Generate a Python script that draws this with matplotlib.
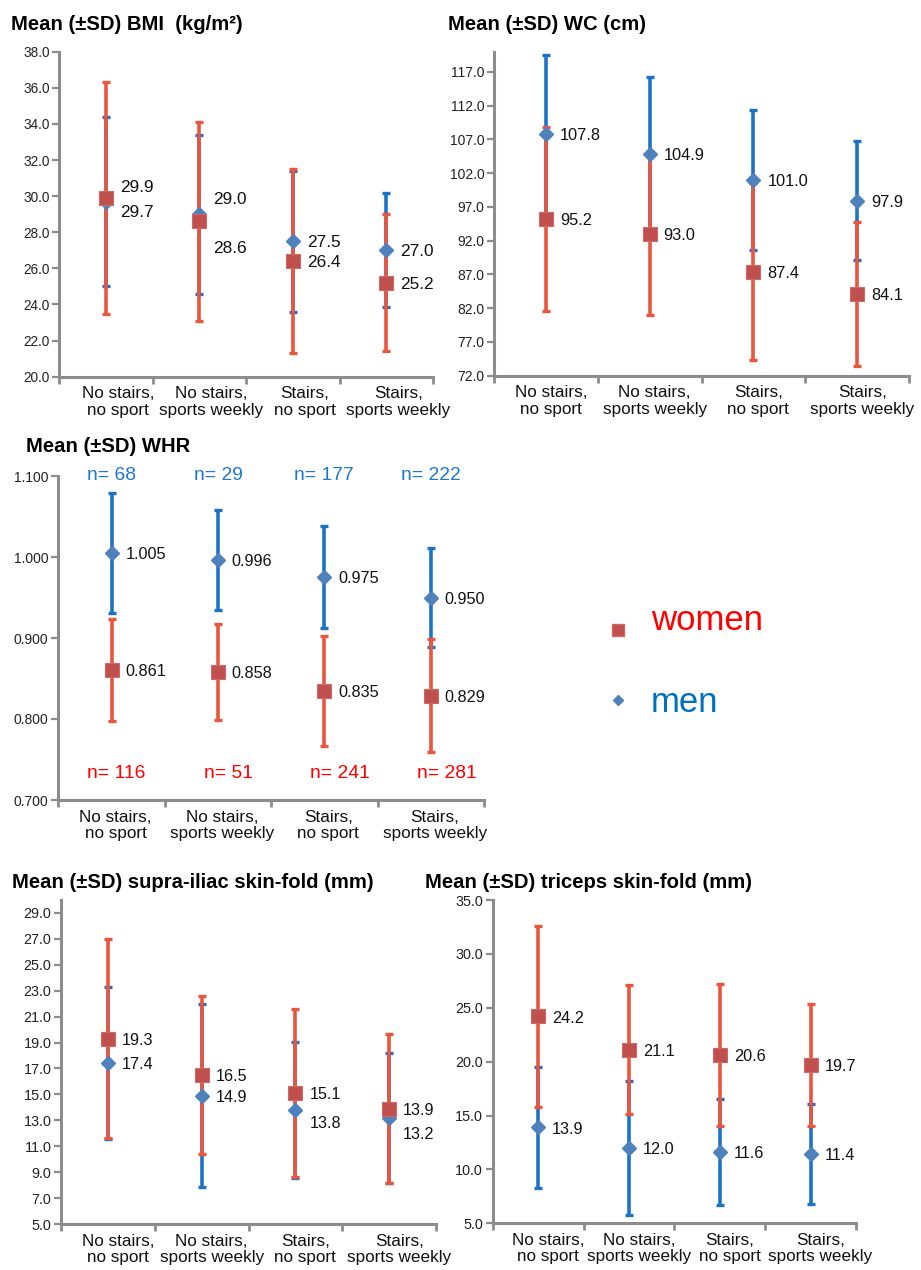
import matplotlib
matplotlib.use("Agg")
import matplotlib.pyplot as plt
import matplotlib.transforms as mtransforms
import numpy as np

plt.rcParams['font.family'] = ['Liberation Sans', 'DejaVu Sans']

W, H = 921, 1270
DPI = 100

categories = ["No stairs,\nno sport", "No stairs,\nsports weekly", "Stairs,\nno sport", "Stairs,\nsports weekly"]

# BMI
bmi_women = [29.9, 28.6, 26.4, 25.2]
bmi_women_sd = [6.4, 5.5, 5.1, 3.8]
bmi_men = [29.7, 29.0, 27.5, 27.0]
bmi_men_sd = [4.7, 4.4, 3.9, 3.15]
# WC
wc_women = [95.2, 93.0, 87.4, 84.1]
wc_women_sd = [13.6, 12.0, 13.1, 10.7]
wc_men = [107.8, 104.9, 101.0, 97.9]
wc_men_sd = [11.7, 11.35, 10.4, 8.8]
# WHR
whr_women = [0.861, 0.858, 0.835, 0.829]
whr_women_sd = [0.063, 0.059, 0.068, 0.070]
whr_men = [1.005, 0.996, 0.975, 0.950]
whr_men_sd = [0.074, 0.062, 0.063, 0.061]
n_women = [116, 51, 241, 281]
n_men = [68, 29, 177, 222]
# supra-iliac skin-fold
sup_women = [19.3, 16.5, 15.1, 13.9]
sup_women_sd = [7.7, 6.1, 6.5, 5.75]
sup_men = [17.4, 14.9, 13.8, 13.2]
sup_men_sd = [5.85, 7.05, 5.25, 5.0]
# triceps skin-fold
tri_women = [24.2, 21.1, 20.6, 19.7]
tri_women_sd = [8.4, 6.0, 6.6, 5.65]
tri_men = [13.9, 12.0, 11.6, 11.4]
tri_men_sd = [5.6, 6.25, 4.9, 4.65]

RED_BAR = '#EA553E'
BLUE_BAR = '#1C73C6'
RED_MK = '#C0504D'
BLUE_MK = '#4F81BD'
AXIS_C = '#8C8C8C'

fig = plt.figure(figsize=(W / DPI, H / DPI), dpi=DPI)


def px_axes(l, t, r, b):
    return fig.add_axes([l / W, 1 - b / H, (r - l) / W, (b - t) / H])


def panel(box, women, wsd, men, msd, ylim, yticks, fmt, title, title_xy,
          lab_fmt, w_off, m_off, cat_dx=8, ticksize=10.2, valsize=12):
    ax = px_axes(*box)
    x = np.arange(len(categories))
    # men bars underneath, women bars on top, then markers
    ax.errorbar(x, men, yerr=msd, fmt='none', ecolor=BLUE_BAR, elinewidth=2.6,
                capsize=2.8, capthick=2.4, zorder=2)
    ax.errorbar(x, women, yerr=wsd, fmt='none', ecolor=RED_BAR, elinewidth=2.6,
                capsize=2.8, capthick=2.4, zorder=3)
    ax.plot(x, men, 'D', color=BLUE_MK, markersize=6.8, markeredgecolor=BLUE_MK,
            linestyle='none', zorder=4)
    ax.plot(x, women, 's', color=RED_MK, markersize=9.8, markeredgecolor='#CD6A67',
            markeredgewidth=0.8, linestyle='none', zorder=5)
    for i in range(len(x)):
        ax.annotate(lab_fmt.format(women[i]), (x[i], women[i]),
                    xytext=(10, -w_off[i] * 0.72 - 1.2), textcoords='offset points',
                    ha='left', va='center', fontsize=valsize, color='#111111', zorder=6)
        ax.annotate(lab_fmt.format(men[i]), (x[i], men[i]),
                    xytext=(10, -m_off[i] * 0.72 - 1.2), textcoords='offset points',
                    ha='left', va='center', fontsize=valsize, color='#111111', zorder=6)
    ax.set_xlim(-0.5, len(x) - 0.5)
    ax.set_ylim(*ylim)
    ax.set_yticks(yticks)
    ax.yaxis.set_major_formatter(matplotlib.ticker.FormatStrFormatter(fmt))
    ax.set_xticks(np.arange(len(x) + 1) - 0.5)
    ax.set_xticklabels([])
    for s in ['top', 'right']:
        ax.spines[s].set_visible(False)
    for s in ['left', 'bottom']:
        ax.spines[s].set_color(AXIS_C)
        ax.spines[s].set_linewidth(2.2)
    ax.tick_params(axis='y', length=5, width=1.6, color=AXIS_C, labelsize=ticksize,
                   labelcolor='#222222', pad=2)
    ax.tick_params(axis='x', length=5, width=2, color=AXIS_C)
    offset = mtransforms.ScaledTranslation(cat_dx / DPI, 0, fig.dpi_scale_trans)
    trans = mtransforms.blended_transform_factory(ax.transData, ax.transAxes) + offset
    for i, c in enumerate(categories):
        ax.text(x[i], -0.03, c, transform=trans, ha='center', va='top',
                fontsize=12.3, color='#111111', linespacing=1.12)
    fig.text(title_xy[0] / W, 1 - title_xy[1] / H, title, ha='left', va='center',
             fontsize=14.6, fontweight='bold', color='#000000')
    return ax


# BMI
panel((59.3, 51.7, 433, 376.7), bmi_women, bmi_women_sd, bmi_men, bmi_men_sd,
      (20, 38), np.arange(20, 38.01, 2), '%.1f', 'Mean (±SD) BMI  (kg/m²)', (11, 25),
      '{:.1f}', [-12, 25, 0, 0], [9.5, -16.5, 0, 0], cat_dx=12, ticksize=9.8, valsize=12.4)
# WC
panel((494, 51.7, 909, 375.7), wc_women, wc_women_sd, wc_men, wc_men_sd,
      (72, 120), np.arange(72, 117.01, 5), '%.1f', 'Mean (±SD) WC (cm)', (448, 25),
      '{:.1f}', [0, 0, 0, 0], [0, 0, 0, 0], cat_dx=5, ticksize=10, valsize=11.8)
# WHR
ax3 = panel((58.3, 476, 484, 800), whr_women, whr_women_sd, whr_men, whr_men_sd,
            (0.7, 1.1), np.arange(0.7, 1.1001, 0.1), '%.3f', 'Mean (±SD) WHR', (26, 447),
            '{:.3f}', [0, 0, 0, 0], [0, 0, 0, 0], cat_dx=4, ticksize=10, valsize=11.7)
n_red_dx = [5, 11, 16, 16]
for i in range(4):
    ax3.text(i, 1.0, 'n= {}'.format(n_men[i]), transform=mtransforms.blended_transform_factory(
        ax3.transData, ax3.transAxes), ha='center', va='center', fontsize=13.9, color='#1F78CC')
    off = mtransforms.ScaledTranslation(n_red_dx[i] / DPI, 0, fig.dpi_scale_trans)
    ax3.text(i, 0.7 + 0.033, 'n= {}'.format(n_women[i]),
             transform=mtransforms.blended_transform_factory(ax3.transData, ax3.transData) + off,
             ha='center', va='center', fontsize=13.9, color='#FF0000')
# supra-iliac
panel((61, 900, 436, 1224), sup_women, sup_women_sd, sup_men, sup_men_sd,
      (5, 30), np.arange(5, 29.01, 2), '%.1f', 'Mean (±SD) supra-iliac skin-fold (mm)', (12, 883),
      '{:.1f}', [0, 0, 0, 0], [0, 0, 12, 15.5], cat_dx=10, ticksize=10.4, valsize=11.6)
# triceps
panel((492.7, 900, 856, 1223.3), tri_women, tri_women_sd, tri_men, tri_men_sd,
      (5, 35), np.arange(5, 35.01, 5), '%.1f', 'Mean (±SD) triceps skin-fold (mm)', (425, 883),
      '{:.1f}', [0, 0, 0, 0], [0, 0, 0, 0], cat_dx=10, ticksize=10.4, valsize=11.7)

# legend
leg = fig.add_axes([0, 0, 1, 1], facecolor='none')
leg.set_xlim(0, W)
leg.set_ylim(H, 0)
leg.axis('off')
leg.plot([618], [630], 's', color=RED_MK, markersize=8.6, markeredgecolor='#CD6A67')
leg.plot([618], [700], 'D', color=BLUE_MK, markersize=5.0, markeredgecolor=BLUE_MK)
leg.text(651, 620, 'women', ha='left', va='center', fontsize=25, color='#FF0000')
leg.text(651, 703, 'men', ha='left', va='center', fontsize=25, color='#0070C0')

fig.savefig('out.png', dpi=DPI)
